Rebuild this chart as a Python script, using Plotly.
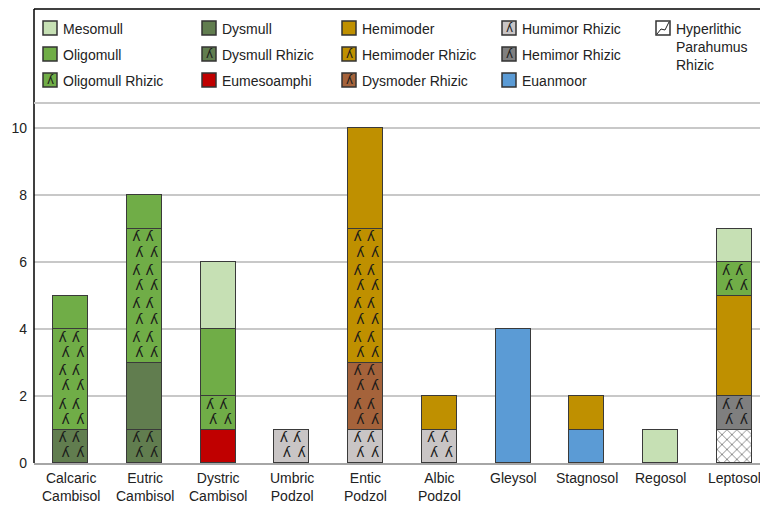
import plotly.graph_objects as go

# Soil groups on the x axis (two-line labels)
soil_groups = ["Calcaric<br>Cambisol", "Eutric<br>Cambisol", "Dystric<br>Cambisol",
               "Umbric<br>Podzol", "Entic<br>Podzol", "Albic<br>Podzol",
               "Gleysol", "Stagnosol", "Regosol", "Leptosol"]

# Humus form counts per soil group, listed in stacking order (bottom first)
hyperlithic_parahumus_rhizic = [0, 0, 0, 0, 0, 0, 0, 0, 0, 1]
hemimor_rhizic = [0, 0, 0, 0, 0, 0, 0, 0, 0, 1]
euanmoor = [0, 0, 0, 0, 0, 0, 4, 1, 0, 0]
humimor_rhizic = [0, 0, 0, 1, 1, 1, 0, 0, 0, 0]
dysmoder_rhizic = [0, 0, 0, 0, 2, 0, 0, 0, 0, 0]
eumesoamphi = [0, 0, 1, 0, 0, 0, 0, 0, 0, 0]
dysmull_rhizic = [1, 1, 0, 0, 0, 0, 0, 0, 0, 0]
dysmull = [0, 2, 0, 0, 0, 0, 0, 0, 0, 0]
hemimoder_rhizic = [0, 0, 0, 0, 4, 0, 0, 0, 0, 0]
hemimoder = [0, 0, 0, 0, 3, 1, 0, 1, 0, 3]
oligomull_rhizic = [3, 4, 1, 0, 0, 0, 0, 0, 0, 1]
oligomull = [1, 1, 2, 0, 0, 0, 0, 0, 0, 0]
mesomull = [0, 0, 2, 0, 0, 0, 0, 0, 1, 1]

y_ticks = [0, 2, 4, 6, 8, 10]

# name, values, fill colour, rooted?, hatched?
series = [
    ("Hyperlithic<br>Parahumus<br>Rhizic", hyperlithic_parahumus_rhizic, "#ffffff", False, True),
    ("Hemimor Rhizic", hemimor_rhizic, "#7f7f7f", True, False),
    ("Euanmoor", euanmoor, "#5b9bd5", False, False),
    ("Humimor Rhizic", humimor_rhizic, "#c9c5c5", True, False),
    ("Dysmoder Rhizic", dysmoder_rhizic, "#a5633b", True, False),
    ("Eumesoamphi", eumesoamphi, "#c00000", False, False),
    ("Dysmull Rhizic", dysmull_rhizic, "#617d4f", True, False),
    ("Dysmull", dysmull, "#617d4f", False, False),
    ("Hemimoder Rhizic", hemimoder_rhizic, "#bf9000", True, False),
    ("Hemimoder", hemimoder, "#bf9000", False, False),
    ("Oligomull Rhizic", oligomull_rhizic, "#70ad47", True, False),
    ("Oligomull", oligomull, "#70ad47", False, False),
    ("Mesomull", mesomull, "#c6e0b4", False, False),
]

# Legend grid: (name, column, row)
legend_layout = [
    ("Mesomull", 0, 0), ("Oligomull", 0, 1), ("Oligomull Rhizic", 0, 2),
    ("Dysmull", 1, 0), ("Dysmull Rhizic", 1, 1), ("Eumesoamphi", 1, 2),
    ("Hemimoder", 2, 0), ("Hemimoder Rhizic", 2, 1), ("Dysmoder Rhizic", 2, 2),
    ("Humimor Rhizic", 3, 0), ("Hemimor Rhizic", 3, 1), ("Euanmoor", 3, 2),
    ("Hyperlithic<br>Parahumus<br>Rhizic", 4, 0),
]

W, H = 760, 507
ML, MR, MT, MB = 34, 0, 103, 44
PW, PH = W - ML - MR, H - MT - MB
FONT = "Liberation Sans, Arial, sans-serif"
ROOT = "ʎ"


def px(x):
    return (x - ML) / PW


def py(y):
    return (H - MB - y) / PH


xs = list(range(len(soil_groups)))
fig = go.Figure()

base = [0] * len(soil_groups)
root_x, root_y = [], []
for name, vals, color, rooted, hatched in series:
    marker = dict(color=color, line=dict(color="#3a3a3a", width=1))
    if hatched:
        marker["pattern"] = dict(shape="x", fgcolor="#111111", bgcolor="#ffffff",
                                 size=7, solidity=0.25, fillmode="overlay")
    fig.add_trace(go.Bar(x=xs, y=vals, name=name, marker=marker, width=0.475,
                         showlegend=False, hoverinfo="skip"))
    if rooted:
        for i, v in enumerate(vals):
            for k in range(int(v)):
                y0 = base[i] + k
                for dx, fy in ((-0.11, 0.73), (0.07, 0.73), (-0.07, 0.27), (0.13, 0.27)):
                    root_x.append(xs[i] + dx)
                    root_y.append(y0 + fy)
    base = [b + v for b, v in zip(base, vals)]

# Root symbols drawn over the rooted segments
fig.add_trace(go.Scatter(x=root_x, y=root_y, mode="text", text=[ROOT] * len(root_x),
                         textfont=dict(family="DejaVu Sans", size=14, color="#1a1a1a"),
                         showlegend=False, hoverinfo="skip"))

shapes = []
annotations = []

# Legend frame: black top and left borders, grey separator at the bottom
shapes.append(dict(type="line", xref="paper", yref="paper", x0=px(34), x1=px(W + 2),
                   y0=py(9), y1=py(9), line=dict(color="#000000", width=1.5)))
shapes.append(dict(type="line", xref="paper", yref="paper", x0=px(34), x1=px(34),
                   y0=py(9), y1=py(463), line=dict(color="#000000", width=1.5)))
shapes.append(dict(type="line", xref="paper", yref="paper", x0=0, x1=1,
                   y0=1, y1=1, line=dict(color="#c8c8c8", width=2)))

col_x = [43, 202, 342, 502, 656]
row_y = [28, 54, 80]
lookup = {s[0]: s for s in series}
for name, c, r in legend_layout:
    _, _, color, rooted, hatched = lookup[name]
    x0, yc = col_x[c], row_y[r]
    shapes.append(dict(type="rect", xref="paper", yref="paper",
                       x0=px(x0), x1=px(x0 + 14), y0=py(yc - 7), y1=py(yc + 7),
                       fillcolor=color, line=dict(color="#333333", width=1.5)))
    if rooted:
        annotations.append(dict(x=px(x0 + 7), y=py(yc), xref="paper", yref="paper",
                                xanchor="center", yanchor="middle",
                                text=ROOT, showarrow=False,
                                font=dict(family="DejaVu Sans", size=12, color="#1a1a1a")))
    if hatched:
        shapes.append(dict(type="path", xref="paper", yref="paper",
                           path=f"M {px(x0 + 1)} {py(yc + 6)} L {px(x0 + 5)} {py(yc + 1)} "
                                f"L {px(x0 + 9)} {py(yc + 2)} L {px(x0 + 13)} {py(yc - 6)}",
                           line=dict(color="#222222", width=1)))
    annotations.append(dict(x=px(x0 + 18), y=py(yc - 9), xref="paper", yref="paper",
                            xanchor="left", yanchor="top", align="left",
                            text=name, showarrow=False,
                            font=dict(family=FONT, size=14, color="#222222")))

# Soil group labels below the axis (allowed to run past the right edge)
for i, lab in zip(xs, soil_groups):
    annotations.append(dict(x=i, y=py(468), xref="x", yref="paper",
                            xanchor="center", yanchor="top", align="center",
                            text=lab, showarrow=False,
                            font=dict(family=FONT, size=14, color="#222222")))

fig.update_layout(
    width=W, height=H,
    margin=dict(l=ML, r=MR, t=MT, b=MB, pad=0),
    barmode="stack", bargap=0,
    plot_bgcolor="#ffffff", paper_bgcolor="#ffffff",
    font=dict(family=FONT, size=14, color="#222222"),
    shapes=shapes, annotations=annotations,
    showlegend=False,
    xaxis=dict(range=[-0.5, 9.35], tickmode="array", tickvals=xs,
               showticklabels=False,
               showgrid=False, zeroline=False, showline=True, linecolor="#a6a6a6",
               linewidth=2, ticks="", fixedrange=True),
    yaxis=dict(range=[0, 10.75], tickmode="array", tickvals=y_ticks,
               showgrid=True, gridcolor="#c8c8c8", gridwidth=2, zeroline=False,
               showline=False, ticks="", ticklabelstandoff=6,
               tickfont=dict(size=14, color="#222222"), fixedrange=True),
)

fig.write_html("out.html", config={"displayModeBar": False})
